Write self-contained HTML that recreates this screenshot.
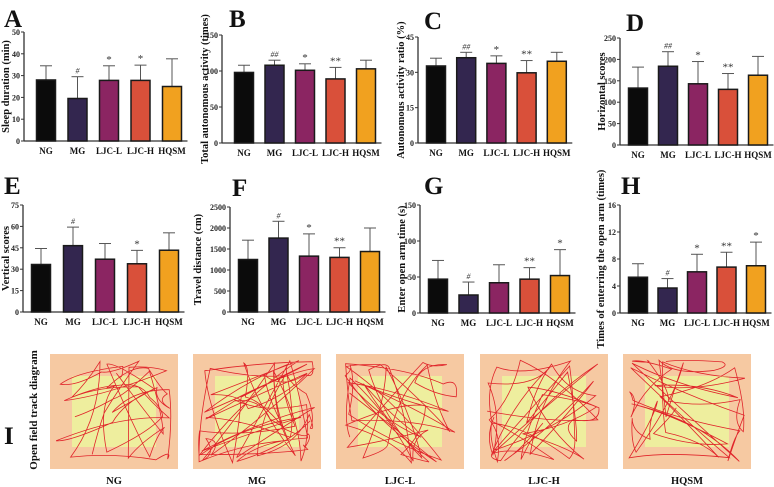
<!DOCTYPE html>
<html><head><meta charset="utf-8"><style>
body{margin:0;background:#fff}
svg{display:block;font-family:"Liberation Serif",serif}
</style></head><body>
<svg id="fig" width="774" height="487" viewBox="0 0 774 487" xmlns="http://www.w3.org/2000/svg"></svg>
<script>
const categories=["NG","MG","LJC-L","LJC-H","HQSM"];
const colors=["#0b0b0b","#33264f","#8b2562","#d9503a","#f1a11f"];
const sleepMean=[28,19.5,27.8,27.8,25];
const sleepErr=[34.5,29.5,34.5,34.8,37.7];
const sleepSig=["","#","*","*",""];
const totalMean=[98,108,101,89,103];
const totalErr=[108,115,110,105,115];
const totalSig=["","##","*","**",""];
const ratioMean=[32.7,36.2,33.8,29.8,34.7];
const ratioErr=[36,38.5,37,35,38.5];
const ratioSig=["","##","*","**",""];
const horizMean=[133,184,143,130,163];
const horizErr=[182,218,195,167,207];
const horizSig=["","##","*","**",""];
const vertMean=[33.3,46.5,37,33.8,43.3];
const vertErr=[44.5,59.5,48,43.2,55.5];
const vertSig=["","#","","*",""];
const travelMean=[1250,1760,1330,1300,1440];
const travelErr=[1710,2160,1860,1530,2000];
const travelSig=["","#","*","**",""];
const openTimeMean=[47,25,42,47,52];
const openTimeErr=[73,43,67,63,88];
const openTimeSig=["","#","","**","*"];
const openTimesMean=[5.3,3.7,6.1,6.8,7.0];
const openTimesErr=[7.3,5.1,8.7,9.0,10.5];
const openTimesSig=["","#","*","**","*"];
const ticksA=[0,10,20,30,40,50];
const ticksB=[0,50,100,150];
const ticksC=[0,15,30,45];
const ticksD=[0,50,100,150,200,250];
const ticksE=[0,15,30,45,60,75];
const ticksF=[0,500,1000,1500,2000,2500];
const ticksG=[0,50,100,150];
const ticksH=[0,4,8,12,16];

const NS="http://www.w3.org/2000/svg";
const svg=document.getElementById('fig');
function mk(tag,attrs,parent,text){const e=document.createElementNS(NS,tag);for(const k in attrs)e.setAttribute(k,attrs[k]);if(text!==undefined)e.textContent=text;(parent||svg).appendChild(e);return e;}

const panels=[
 {id:"A",key:"sleep",mean:sleepMean,err:sleepErr,sig:sleepSig,ticks:ticksA,title:"Sleep duration (min)",ax:24,x0:46,pitch:31.5,yTop:32,y0:141,titleX:9,lx:4,ly:27},
 {id:"B",key:"total",mean:totalMean,err:totalErr,sig:totalSig,ticks:ticksB,title:"Total autonomous activity (times)",ax:222,x0:244,pitch:30.5,yTop:35,y0:143,titleX:208,lx:229,ly:27},
 {id:"C",key:"ratio",mean:ratioMean,err:ratioErr,sig:ratioSig,ticks:ticksC,title:"Autonomous activity ratio (%)",ax:418,x0:436,pitch:30.2,yTop:37,y0:143,titleX:404,lx:424,ly:29},
 {id:"D",key:"horiz",mean:horizMean,err:horizErr,sig:horizSig,ticks:ticksD,title:"Horizontal scores",ax:620,x0:638,pitch:30,yTop:38,y0:145,titleX:605,lx:626,ly:31},
 {id:"E",key:"vert",mean:vertMean,err:vertErr,sig:vertSig,ticks:ticksE,title:"Vertical scores",ax:23,x0:41,pitch:32,yTop:205,y0:312,titleX:9,lx:4,ly:194},
 {id:"F",key:"travel",mean:travelMean,err:travelErr,sig:travelSig,ticks:ticksF,title:"Travel distance (cm)",ax:230,x0:248,pitch:30.5,yTop:207,y0:312,titleX:201,lx:232,ly:196},
 {id:"G",key:"open-time",mean:openTimeMean,err:openTimeErr,sig:openTimeSig,ticks:ticksG,title:"Enter open arm time (s)",ax:420,x0:438,pitch:30.5,yTop:205,y0:313,titleX:405,lx:424,ly:194},
 {id:"H",key:"open-times",mean:openTimesMean,err:openTimesErr,sig:openTimesSig,ticks:ticksH,title:"Times of enterring the open arm (times)",ax:620,x0:638,pitch:29.5,yTop:205,y0:313,titleX:604,lx:621,ly:194}
];

panels.forEach(p=>{
  const g=mk('g',{});
  
  
  const maxV=p.ticks[p.ticks.length-1];
  const y=v=>p.y0-(v/maxV)*(p.y0-p.yTop);
  const x=i=>p.x0+i*p.pitch;
  const bw=19;
  const lab=mk('text',{x:p.lx,y:p.ly,'font-size':25,'font-weight':'bold',fill:'#111'},g,p.id);
  
  
  const xEnd=x(4)+bw/2+6;
  const ya=mk('line',{x1:p.ax,y1:p.yTop,x2:p.ax,y2:p.y0,stroke:'#333','stroke-width':1.3},g);
  
  
  const xa=mk('line',{x1:p.ax,y1:p.y0,x2:xEnd,y2:p.y0,stroke:'#333','stroke-width':1.3},g);
  
  
  p.ticks.forEach(t=>{
    mk('line',{x1:p.ax-3,y1:y(t),x2:p.ax,y2:y(t),stroke:'#333','stroke-width':1},g);
    const tl=mk('text',{x:p.ax-4,y:y(t)+3,'font-size':8,'font-weight':'bold','text-anchor':'end',fill:'#222'},g,String(t));
    
    
  });
  const cy=(p.yTop+p.y0)/2;
  const tt=mk('text',{x:p.titleX,y:cy,'font-size':10.5,'font-weight':'bold','text-anchor':'middle',fill:'#111',transform:`rotate(-90 ${p.titleX} ${cy})`},g,p.title);
  
  
  categories.forEach((c,i)=>{
    const cx=x(i);
    const e=mk('line',{x1:cx,y1:y(p.err[i]),x2:cx,y2:y(p.mean[i]),stroke:'#555','stroke-width':1},g);
    
    
    mk('line',{x1:cx-6,y1:y(p.err[i]),x2:cx+6,y2:y(p.err[i]),stroke:'#555','stroke-width':1},g);
    const b=mk('rect',{x:cx-bw/2,y:y(p.mean[i]),width:bw,height:p.y0-y(p.mean[i]),fill:colors[i],stroke:'#1a1a1a','stroke-width':1.5},g);
    
    
    if(p.sig[i]){
      const star=p.sig[i].includes('*');
      const s=mk('text',{x:cx,y:y(p.err[i])-3,'font-size':star?11:8,'text-anchor':'middle',fill:'#333','font-style':star?'normal':'italic'},g,p.sig[i]);
      
      
    }
    const xl=mk('text',{x:cx,y:p.y0+13,'font-size':9,'font-weight':'bold','text-anchor':'middle',fill:'#111'},g,c);
    
    
  });
});

// Panel I
const gi=mk('g',{});


const li=mk('text',{x:4,y:444,'font-size':25,'font-weight':'bold',fill:'#111'},gi,'I');


const ti=mk('text',{x:37,y:410,'font-size':11,'font-weight':'bold','text-anchor':'middle',fill:'#111',transform:'rotate(-90 37 410)'},gi,'Open field track diagram');


const boxX=[50,193,336,480,623];
let seed=11;
function rnd(){seed=(seed*16807)%2147483647;return seed/2147483647;}
categories.forEach((c,k)=>{
  const bx=boxX[k],by=354,w=128,h=115;
  const g=mk('g',{},gi);
  
  
  mk('rect',{x:bx,y:by,width:w,height:h,fill:'#f6c9a2'},g);
  mk('rect',{x:bx+22,y:by+22,width:w-44,height:h-44,fill:'#eeee9e'},g);
  let d='';const n=k==1?55:38;
  function pt(){
    if(rnd()<0.6){const e=Math.floor(rnd()*4);
      if(e==0)return [bx+6+rnd()*(w-12),by+6+rnd()*9];
      if(e==1)return [bx+6+rnd()*(w-12),by+h-15+rnd()*9];
      if(e==2)return [bx+6+rnd()*9,by+6+rnd()*(h-12)];
      return [bx+w-15+rnd()*9,by+6+rnd()*(h-12)];
    }
    return [bx+10+rnd()*(w-20),by+10+rnd()*(h-20)];
  }
  let p0=pt();d='M'+p0[0].toFixed(1)+' '+p0[1].toFixed(1);
  for(let j=0;j<n;j++){
    const p1=pt();
    const mx=(p0[0]+p1[0])/2+(rnd()-0.5)*30, my=(p0[1]+p1[1])/2+(rnd()-0.5)*30;
    const cx=Math.min(bx+w-5,Math.max(bx+5,mx)), cy=Math.min(by+h-5,Math.max(by+5,my));
    d+=' Q'+cx.toFixed(1)+' '+cy.toFixed(1)+' '+p1[0].toFixed(1)+' '+p1[1].toFixed(1);
    p0=p1;
  }
  mk('path',{d:d,fill:'none',stroke:'#e0242a','stroke-width':0.8},g);
  const t=mk('text',{x:bx+w/2,y:484,'font-size':10.5,'font-weight':'bold','text-anchor':'middle',fill:'#111'},g,c);
  
  
});
</script>
</body></html>
